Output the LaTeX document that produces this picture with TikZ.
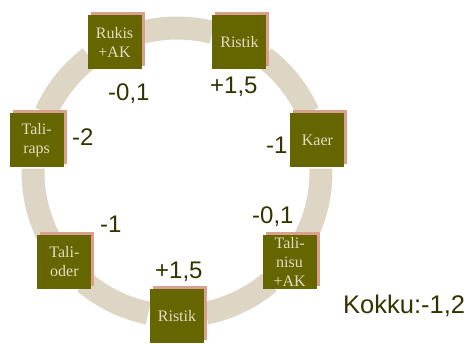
\documentclass[tikz,border=0pt]{standalone}
\usepackage{fontspec}
\setmainfont{Liberation Serif}
\newfontfamily\labfont{Liberation Sans}
\definecolor{ringc}{HTML}{DDD6C5}
\definecolor{boxc}{HTML}{666600}
\definecolor{boxtxt}{HTML}{E2DCC6}
\definecolor{shadc}{HTML}{D9A08E}
\definecolor{labc}{HTML}{333300}
\tikzset{
  ringseg/.style={draw=ringc, line width=23pt, line cap=butt},
  cropbox/.style={fill=boxc, text=boxtxt, minimum width=54pt, minimum height=54pt,
    inner sep=0pt, align=center, font=\fontsize{16}{19}\selectfont},
  cropshadow/.style={fill=shadc, minimum width=54pt, minimum height=54pt, inner sep=0pt},
  val/.style={text=labc, anchor=base west, inner sep=0pt, font=\labfont\fontsize{24}{28}\selectfont},
}
\begin{document}
\begin{tikzpicture}[x=1pt,y=-1pt]
\useasboundingbox (0,0) rectangle (470,343);
\begin{scope}[shift={(177,172)}, yscale=-1]
  \foreach \k in {0,...,6} {
    \pgfmathsetmacro\a{270+\k*360/7}
    \pgfmathsetmacro\b{\a+11.5}
    \pgfmathsetmacro\e{\a+360/7-11.5}
    \draw[ringseg] (\b:144) arc[start angle=\b, end angle=\e, radius=144];
    \coordinate (p\k) at (\a:144);
  }
\end{scope}
\foreach \k in {0,...,6} {
  \node[cropshadow] (s\k) at ([shift={(3,-3)}]p\k) {};
}
\node[cropbox] (ristikB) at (p0) {Ristik};
\node[cropbox] (talinisu) at (p1) {Tali-\\nisu\\+AK};
\node[cropbox] (kaer) at (p2) {Kaer};
\node[cropbox] (ristikT) at (p3) {Ristik};
\node[cropbox] (rukis) at (p4) {Rukis\\+AK};
\node[cropbox] (taliraps) at (p5) {Tali-\\raps};
\node[cropbox] (talioder) at (p6) {Tali-\\oder};

\node[val] (v1) at (108,100) {-0,1};
\node[val] (v2) at (210,93) {+1,5};
\node[val] (v3) at (72,145) {-2};
\node[val] (v4) at (266,153) {-1};
\node[val] (v5) at (252,223) {-0,1};
\node[val] (v6) at (100,232) {-1};
\node[val] (v7) at (155,278) {+1,5};
\node[val, font=\labfont\fontsize{25.5}{30}\selectfont] (tot) at (343,313) {Kokku:-1,2};
\end{tikzpicture}
\end{document}
